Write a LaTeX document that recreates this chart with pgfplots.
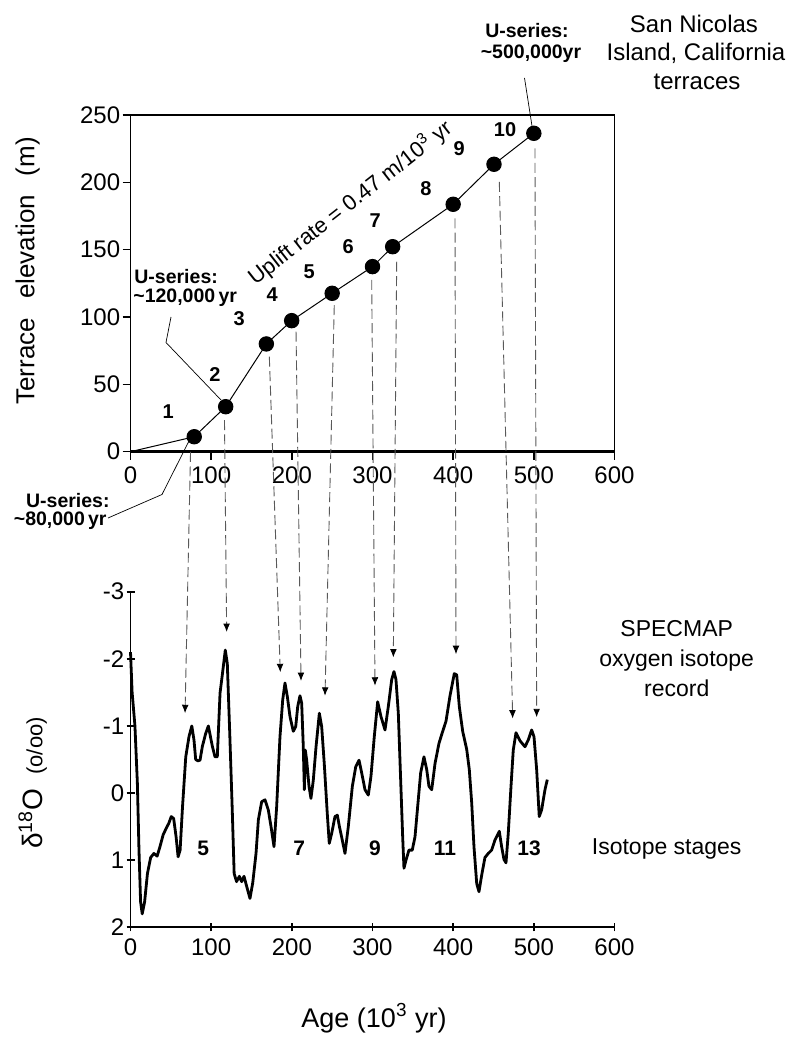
\documentclass[border=0pt]{standalone}
\usepackage{fontspec}
\setmainfont{Liberation Sans}
\usepackage{pgfplots}
\usepackage{pgfplotstable}
\pgfplotsset{compat=1.18}
\usetikzlibrary{arrows.meta}

\pgfplotstableread{
x y
0 0
79 11.1
118 33.4
168.4 80
199.8 97.3
250 117.6
300 137.4
325 152.2
400 183.7
450.6 213.4
500 236.4
}\terraces

\pgfplotstableread{
x y
0 -2.10
2 -1.50
5.5 -1.00
8.5 -0.15
10.5 0.85
12.5 1.62
14.5 1.80
17.5 1.62
21 1.20
25 0.96
29 0.90
33 0.94
36.5 0.80
40.5 0.62
44.5 0.52
47.5 0.45
50.5 0.35
53.5 0.38
56.5 0.65
59 0.95
61.5 0.85
64.5 0.20
68.5 -0.54
72.5 -0.84
76 -1.00
78.7 -0.79
80.8 -0.50
83.5 -0.48
86.2 -0.49
89 -0.69
93 -0.88
96.5 -1.00
101.4 -0.70
104.7 -0.54
107.6 -0.54
111 -1.49
113.8 -1.76
117.5 -2.13
120 -1.93
123 -0.90
126 0.20
128.5 1.20
131.5 1.32
134.9 1.24
137.8 1.32
140.7 1.24
144 1.39
148.1 1.57
151.5 1.34
155.6 0.90
158.5 0.40
162.6 0.13
166.7 0.10
170.8 0.25
174.2 0.50
177.9 0.80
181.2 0.20
185.3 -0.84
188.7 -1.39
191.5 -1.64
194.4 -1.44
197.7 -1.14
201.8 -0.92
204.8 -0.99
207.3 -1.29
210.1 -1.45
212.2 -1.34
214.2 -0.69
215.5 -0.05
216.7 -0.64
218.4 -0.49
221.3 -0.10
223.7 0.08
226.6 -0.19
230 -0.69
234.1 -1.19
237 -0.99
240.2 -0.44
243.9 0.30
246.4 0.75
249.4 0.60
253.5 0.35
256.4 0.33
259 0.50
262 0.67
265.9 0.90
270 0.50
275 -0.10
279.2 -0.39
283.3 -0.49
286.6 -0.30
290.7 -0.05
294.8 0.03
298.1 -0.25
302.2 -0.84
306.4 -1.36
310.5 -1.14
315.5 -0.94
319.6 -1.29
323.8 -1.69
326.6 -1.81
329.1 -1.69
332 -1.19
334.9 -0.20
337.4 0.65
339 1.12
341.5 1.00
345.2 0.85
349.3 0.85
352.7 0.65
356 0.20
359.7 -0.30
363.8 -0.54
367.2 -0.35
370 -0.10
373.4 -0.05
377.5 -0.44
382.4 -0.74
386.5 -0.90
391.1 -1.07
396.1 -1.45
401.4 -1.78
404.4 -1.76
407.6 -1.29
411.8 -0.92
416.8 -0.65
420 -0.35
423 0.15
425.8 0.80
429.2 1.35
432 1.47
435.4 1.22
439.4 0.96
443.5 0.90
447.7 0.85
451.8 0.70
457.2 0.57
460.1 0.80
463 0.99
465.5 1.04
468.3 0.60
471.7 -0.10
474.5 -0.64
477.9 -0.90
482.8 -0.78
489 -0.69
493.1 -0.79
497.3 -0.94
500.2 -0.84
503.5 -0.35
506.7 0.35
509.7 0.25
513.8 -0.05
516.7 -0.20
}\specmap

\pgfplotsset{
  common/.style={
    scale only axis, width=242pt,
    xmin=0, xmax=600, xtick={0,100,...,600},
    tick align=outside, major tick length=4pt,
    tick style={line width=0.8pt, black},
    axis line style={line width=0.8pt},
    ticklabel style={font=\fontsize{12}{14}\selectfont},
    yticklabel style={inner sep=1pt},
    /pgf/number format/assume math mode=true,
    clip=false,
  }
}

\begin{document}
\begin{tikzpicture}
\path[use as bounding box] (0,0) rectangle (393pt,518.5pt);

% ---------- top axis: terraces ----------
\begin{axis}[common, at={(186.25pt,376.825pt)}, anchor=center,
  height=168.35pt, ymin=0, ymax=250, ytick={0,50,...,250},
  xtick pos=bottom, ytick pos=left]
  \draw[line width=1.3pt] (rel axis cs:0,0) -- (rel axis cs:1,0);
  \addplot[black, line width=0.5pt, mark=*, mark size=3.6pt,
    mark indices={2,3,4,5,6,7,8,9,10,11}] table[x=x,y=y] {\terraces};
  \coordinate (s1) at (axis cs:74.4,-0.2);
  \coordinate (s2) at (axis cs:116.5,23.5);
  \coordinate (s3) at (axis cs:172.1,70.5);
  \coordinate (s4) at (axis cs:205.2,89.1);
  \coordinate (s5) at (axis cs:252.6,108.9);
  \coordinate (s6) at (axis cs:299,127.5);
  \coordinate (s7) at (axis cs:330,141.1);
  \coordinate (s8) at (axis cs:402.3,173.3);
  \coordinate (s9) at (axis cs:457.2,200.4);
  \coordinate (s10) at (axis cs:501.4,225.2);
\end{axis}

% ---------- bottom axis: SPECMAP ----------
\begin{axis}[common, at={(186.25pt,138.75pt)}, anchor=center,
  height=167.8pt, ymin=-3, ymax=2, y dir=reverse,
  axis x line=bottom, axis y line=left, axis line style={-, line width=0.8pt},
  ytick={-3,-2,-1,0,1,2}, yticklabels={-3,-2,-1,0,1,2}]
  \addplot[black, line width=1.4pt, line join=round, no marks] table[x=x,y=y] {\specmap};
  \coordinate (t1) at (axis cs:67.6,-1.19);
  \coordinate (t2) at (axis cs:119.2,-2.40);
  \coordinate (t3) at (axis cs:185.7,-1.80);
  \coordinate (t4) at (axis cs:211.4,-1.67);
  \coordinate (t5) at (axis cs:241.1,-1.45);
  \coordinate (t6) at (axis cs:303.1,-1.60);
  \coordinate (t7) at (axis cs:325.8,-2.02);
  \coordinate (t8) at (axis cs:403.5,-2.07);
  \coordinate (t9) at (axis cs:473.8,-1.11);
  \coordinate (t10) at (axis cs:503.5,-1.13);
\end{axis}

\foreach \i in {1,...,10}
  \draw[black!65, line width=0.45pt, dash pattern=on 5pt off 2.2pt,
    -{Latex[length=4.2pt,width=3.4pt,color=black]}] (s\i) -- (t\i);

% ---------- annotations (pixel coordinates of the reference) ----------
\begin{scope}[x=0.5pt, y=-0.5pt, shift={(0pt,518.5pt)}]
  % leader lines
  \draw[line width=0.35pt] (171,317) -- (166,342.5) -- (221,400);
  \draw[line width=0.35pt] (108,518) -- (162,494.5) -- (189,441);
  \draw[line width=0.35pt] (524.5,78) -- (532,126);

  % titles on the right
  \begin{scope}[every node/.style={font=\fontsize{12}{14}\selectfont, inner sep=0, anchor=base}]
    \node at (694,33) {San Nicolas};
    \node at (696,61) {Island, California};
    \node at (697,90) {terraces};
  \end{scope}
  \begin{scope}[every node/.style={font=\fontsize{11.5}{14}\selectfont, inner sep=0, anchor=base}]
    \node at (676.7,637) {SPECMAP};
    \node at (676.7,667) {oxygen isotope};
    \node at (676.7,697) {record};
    \node at (666.7,855) {Isotope stages};
  \end{scope}

  % U-series labels
  \begin{scope}[every node/.style={font=\bfseries\fontsize{9.75}{12}\selectfont, inner sep=0}]
    \node[anchor=base] at (527,38) {U-series:};
    \node[anchor=base] at (531,59) {\textasciitilde500,000yr};
    \node[anchor=base west] at (134,284) {U-series:};
    \node[anchor=base west] at (133,303) {\textasciitilde120,000\,yr};
    \node[anchor=base east] at (110,508) {U-series:};
    \node[anchor=base east] at (107,526) {\textasciitilde80,000\,yr};
  \end{scope}

  % terrace numbers
  \begin{scope}[every node/.style={font=\bfseries\fontsize{10}{12}\selectfont, inner sep=0}]
    \node at (168.3,411.7) {1};
    \node at (215,375) {2};
    \node at (239.3,318.3) {3};
    \node at (272.3,295) {4};
    \node at (309.3,271.7) {5};
    \node at (348.3,246.7) {6};
    \node at (375.3,220.7) {7};
    \node at (426,188.3) {8};
    \node at (459.3,148.3) {9};
    \node at (505,129.3) {10};
  \end{scope}

  % isotope stage numbers
  \begin{scope}[every node/.style={font=\bfseries\fontsize{10.5}{12}\selectfont, inner sep=0}]
    \node at (203.3,848.3) {5};
    \node at (299.3,848.3) {7};
    \node at (375,848.3) {9};
    \node at (445,848.3) {11};
    \node at (529,848.3) {13};
  \end{scope}

  % uplift rate
  \node[rotate=38, font=\fontsize{11}{13}\selectfont, inner sep=0] at (350,203)
    {Uplift rate = 0.47 m/10\textsuperscript{3} yr};

  % axis titles
  \node[rotate=90, font=\fontsize{13}{15}\selectfont, inner sep=0] at (27.7,270.8)
    {Terrace\hspace{0.45em} elevation\hspace{0.45em} (m)};
  \node[rotate=90, font=\fontsize{14}{16}\selectfont, inner sep=0] at (32.7,783)
    {δ\textsuperscript{18}O\hspace{0.5em}{\fontsize{11}{13}\selectfont (o/oo)}};
  \node[anchor=base, font=\fontsize{13.5}{16}\selectfont, inner sep=0] at (374,1027)
    {Age (10\textsuperscript{3} yr)};
\end{scope}
\end{tikzpicture}
\end{document}
